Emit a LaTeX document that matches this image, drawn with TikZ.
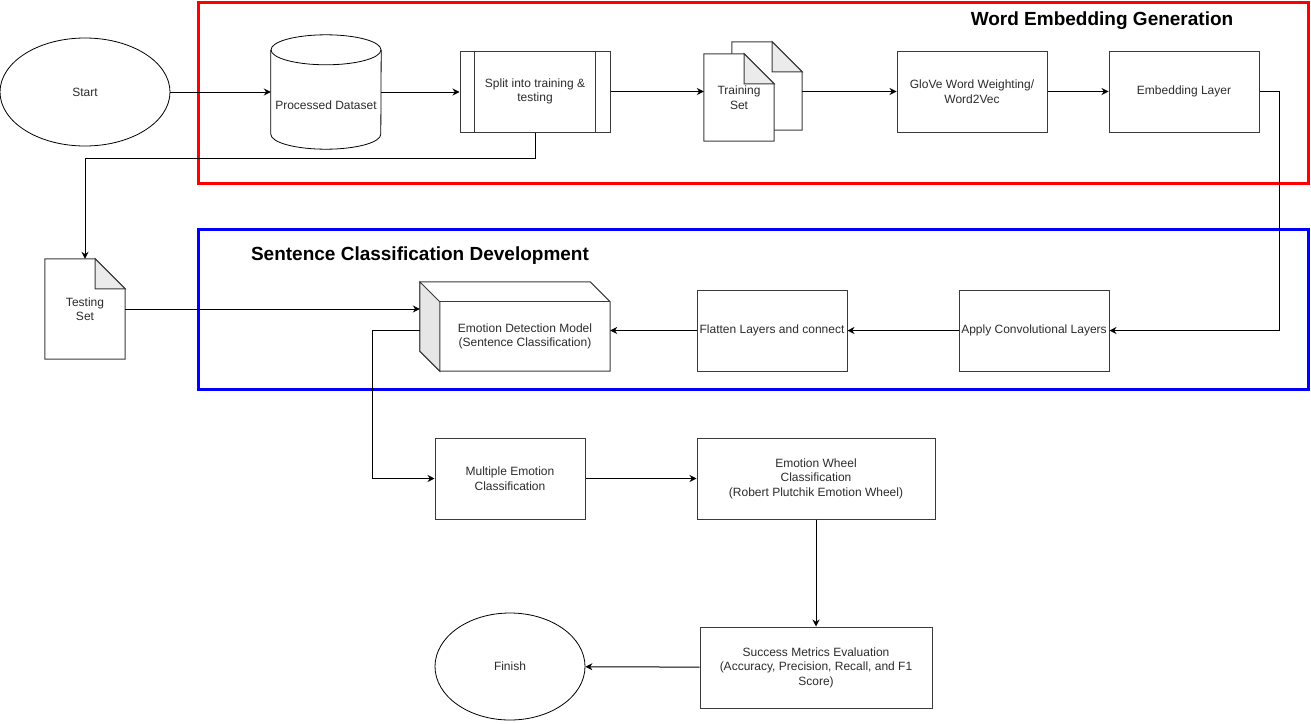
\documentclass[tikz,border=0pt]{standalone}
\usepackage{fontspec}
\setmainfont{Liberation Sans}
\usetikzlibrary{shapes.geometric,arrows.meta}
\definecolor{boxline}{HTML}{3A3A3A}
\definecolor{boxtext}{HTML}{2B2B2B}
\definecolor{foldgray}{HTML}{EBEBEB}
\definecolor{sidegray}{HTML}{E6E6E6}
\begin{document}
\begin{tikzpicture}[
    x=1pt, y=-1pt,
    every node/.style={font=\fontsize{12}{14.5}\selectfont, text=boxtext},
    procbox/.style={draw=boxline, line width=1pt, rectangle, inner sep=1pt,
      minimum width=150pt, minimum height=81pt, align=center},
    holder/.style={rectangle, inner sep=0pt},
    oval/.style={draw=black, line width=0.8pt, ellipse, inner sep=0pt},
    title/.style={font=\fontsize{19}{23}\selectfont\bfseries, text=black},
    arr/.style={draw=black, line width=1pt, -{Stealth[length=7pt,width=7pt]}},
    frame/.style={line width=3pt}
  ]
  \useasboundingbox (0,0) rectangle (1311,723);

  \draw[frame, red] (198,2.5) rectangle (1308.5,183);
  \draw[frame, blue] (198,229.5) rectangle (1308.5,389);
  \node[title] (wegtitle) at (1102,21) {Word Embedding Generation};
  \node[title] (scdtitle) at (420,256) {Sentence Classification Development};

  \node[oval, minimum width=170pt, minimum height=108pt] (start) at (85,92) {Start};
  \node[holder, minimum width=110pt, minimum height=114pt,
    label={[yshift=-13pt]center:Processed Dataset}] (ds) at (326,92) {};
  \node[procbox] (split) at (535,91.5) {Split into training \&\\testing};
  \node[holder, minimum width=70pt, minimum height=88pt] (trainback) at (767,86) {};
  \node[holder, minimum width=70pt, minimum height=87pt] (train) at (739,97.5) {};
  \node[procbox] (glove) at (972,91.5) {GloVe Word Weighting/\\Word2Vec};
  \node[procbox] (embed) at (1184,91.5) {Embedding Layer};

  \node[holder, minimum width=80pt, minimum height=100pt] (test) at (85,309) {};
  \node[holder, minimum width=190pt, minimum height=89pt] (model) at (515,326.5) {};
  \node[procbox] (flatten) at (772,330.5) {Flatten Layers and connect};
  \node[procbox] (conv) at (1034,330.5) {Apply Convolutional Layers};

  \node[procbox] (multi) at (510,478.5) {Multiple Emotion\\Classification};
  \node[procbox, minimum width=238pt] (wheel) at (816,478.5) {Emotion Wheel\\Classification\\(Robert Plutchik Emotion Wheel)};
  \node[procbox, minimum width=232pt] (metrics) at (816,667.5) {Success Metrics Evaluation\\(Accuracy, Precision, Recall, and F1\\Score)};
  \node[oval, minimum width=150pt, minimum height=107pt] (finish) at (510,666.5) {Finish};

  % cylinder
  \draw[line width=0.8pt] ([yshift=-15pt]ds.north west) -- ([yshift=15pt]ds.south west)
    arc[start angle=180, end angle=360, x radius=55pt, y radius=15pt]
    -- ([yshift=-15pt]ds.north east);
  \draw[line width=0.8pt] ([yshift=-15pt]ds.north) ellipse [x radius=55pt, y radius=15pt];
  \draw[boxline, line width=1pt] ([xshift=15pt]split.north west) -- ([xshift=15pt]split.south west)
    ([xshift=-15pt]split.north east) -- ([xshift=-15pt]split.south east);

  % folded papers
  \foreach \p in {trainback,train,test} {
    \draw[boxline, line width=1pt, fill=white] (\p.north west) -- ([xshift=-30pt]\p.north east)
      -- ([yshift=-30pt]\p.north east) -- (\p.south east) -- (\p.south west) -- cycle;
    \draw[boxline, line width=1pt, fill=foldgray] ([xshift=-30pt]\p.north east)
      -- ([xshift=-30pt,yshift=-30pt]\p.north east) -- ([yshift=-30pt]\p.north east) -- cycle;
  }
  \node[align=center] at (train.center) {Training\\Set};
  \node[align=center] at (test.center) {Testing\\Set};

  % cube
  \draw[boxline, line width=1pt, fill=white] (model.north west) -- ([xshift=-20pt]model.north east)
    -- ([yshift=-20pt]model.north east) -- (model.south east) -- ([xshift=20pt]model.south west)
    -- ([yshift=20pt]model.south west) -- cycle;
  \draw[boxline, line width=1pt, fill=sidegray] (model.north west) -- ([xshift=20pt,yshift=-20pt]model.north west)
    -- ([xshift=20pt]model.south west) -- ([yshift=20pt]model.south west) -- cycle;
  \draw[boxline, line width=1pt] ([xshift=20pt,yshift=-20pt]model.north west) -- ([yshift=-20pt]model.north east);
  \node[align=center] at ([xshift=10pt,yshift=-10pt]model.center) {Emotion Detection Model\\(Sentence Classification)};

  \draw[arr] (start) -- (ds);
  \draw[arr] (ds.east) -- (ds.east -| split.west);
  \draw[arr] (split.east) -- (split.east -| train.west);
  \draw[arr] (glove.west -| trainback.east) -- (glove.west);
  \draw[arr] (glove) -- (embed);
  \draw[arr] (embed.east) -- ++(20pt,0) |- (conv.east);
  \draw[arr] (split.south) -- ++(0,-26pt) -| (test.north);
  \draw[arr] (test.east) -- (test.east -| model.west);
  \draw[arr] (conv) -- (flatten);
  \draw[arr] (flatten.west) -- (flatten.west -| model.east);
  \draw[arr] ([yshift=-4pt]model.west) -- ++(-47pt,0) |- (multi.west);
  \draw[arr] (multi) -- (wheel);
  \draw[arr] (wheel) -- (metrics);
  \draw[arr] (metrics) -- (finish);
\end{tikzpicture}
\end{document}
